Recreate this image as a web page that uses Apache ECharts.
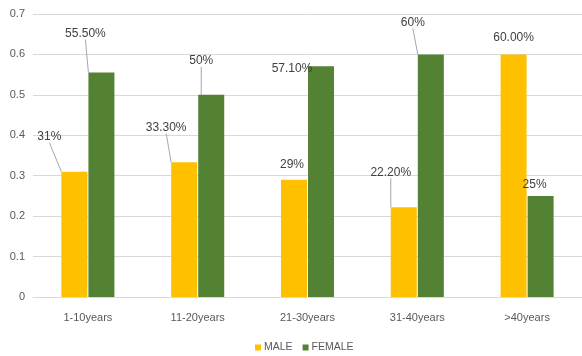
<!DOCTYPE html>
<html><head><meta charset="utf-8">
<script src="https://cdn.jsdelivr.net/npm/echarts@6/dist/echarts.min.js"></script>
<style>html,body{margin:0;padding:0;background:#fff}#c{width:582px;height:356px}</style>
</head><body><div id="c"></div>
<script>
const categories = ['1-10years', '11-20years', '21-30years', '31-40years', '>40years'];
const maleValues = [0.31, 0.333, 0.29, 0.222, 0.60];
const femaleValues = [0.555, 0.50, 0.571, 0.60, 0.25];
const maleLabels = ['31%', '33.30%', '29%', '22.20%', '60.00%'];
const femaleLabels = ['55.50%', '50%', '57.10%', '60%', '25%'];
const yTicks = [0, 0.1, 0.2, 0.3, 0.4, 0.5, 0.6, 0.7];

const FONT = '"Liberation Sans", Arial, sans-serif';
// label offsets [dx, dy] and whether a leader line is drawn
const layoutCfg = [
  [[-25, -24, true], [-18, -24, true], [-2, -4, false], [-13, -24, true], [0, -6, false]],
  [[-16, -28, true], [-10, -23, true], [-29, 14, false], [-18, -21, true], [-6, 0, false]]
];
function build(values, labels, si) {
  return values.map((v, i) => ({
    value: v,
    label: { formatter: labels[i] },
    labelLine: { show: layoutCfg[si][i][2] }
  }));
}
const chart = echarts.init(document.getElementById('c'));
chart.setOption({
  animation: false,
  grid: { left: 33, right: -1, top: 14, bottom: 59 },
  legend: {
    bottom: -2, left: 250, itemWidth: 6, itemHeight: 6, itemGap: 10,
    icon: 'rect',
    textStyle: { fontFamily: FONT, fontSize: 10.5, color: '#595959', padding: [0, 0, 0, -2] },
    data: ['MALE', 'FEMALE']
  },
  xAxis: {
    type: 'category', data: categories,
    axisTick: { show: false },
    axisLine: { lineStyle: { color: '#d9d9d9' } },
    axisLabel: { fontFamily: FONT, fontSize: 11, color: '#595959', margin: 15 }
  },
  yAxis: {
    type: 'value', min: 0, max: 0.7, interval: 0.1,
    axisLabel: { fontFamily: FONT, fontSize: 11, color: '#595959', margin: 8,
      formatter: v => { const t = yTicks.find(x => Math.abs(x - v) < 1e-6); return t === 0 ? '0' : String(t); } },
    splitLine: { lineStyle: { color: '#d9d9d9' } },
    axisLine: { show: false }, axisTick: { show: false }
  },
  series: [
    { name: 'MALE', type: 'bar', barWidth: 26, barGap: '4%',
      itemStyle: { color: '#FFC000' },
      data: build(maleValues, maleLabels, 0),
      label: { show: true, position: 'top', distance: 5, fontFamily: FONT, fontSize: 12, color: '#404040' },
      labelLine: { show: true, lineStyle: { color: '#a6a6a6', width: 1 } },
      labelLayout: p => ({ dx: layoutCfg[0][p.dataIndex][0], dy: layoutCfg[0][p.dataIndex][1] })
    },
    { name: 'FEMALE', type: 'bar', barWidth: 26,
      itemStyle: { color: '#548235' },
      data: build(femaleValues, femaleLabels, 1),
      label: { show: true, position: 'top', distance: 5, fontFamily: FONT, fontSize: 12, color: '#404040' },
      labelLine: { show: true, lineStyle: { color: '#a6a6a6', width: 1 } },
      labelLayout: p => ({ dx: layoutCfg[1][p.dataIndex][0], dy: layoutCfg[1][p.dataIndex][1] })
    }
  ]
});
</script></body></html>
